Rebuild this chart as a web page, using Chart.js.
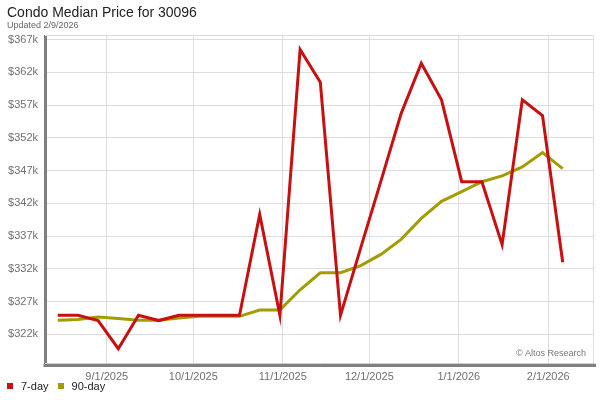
<!DOCTYPE html>
<html>
<head>
<meta charset="utf-8">
<script src="https://cdn.jsdelivr.net/npm/chart.js@4/dist/chart.umd.min.js"></script>
<style>
  html, body { margin: 0; padding: 0; background: #fff; }
  #wrap { position: relative; width: 600px; height: 400px; overflow: hidden; font-family: "Liberation Sans", Arial, sans-serif; }
  #c { position: absolute; left: 0; top: 0; }
  .title { position: absolute; left: 7px; top: 4px; font-size: 14px; color: #222; white-space: nowrap; }
  .sub { position: absolute; left: 7px; top: 20px; font-size: 9px; color: #666; white-space: nowrap; }
  .credit { position: absolute; right: 14px; top: 348px; font-size: 9px; color: #777; white-space: nowrap; }
  .legend { position: absolute; left: 7px; top: 380px; font-size: 11px; color: #222; white-space: nowrap; }
  .legend span.sw { display: inline-block; width: 6px; height: 6px; vertical-align: middle; margin-right: 8px; position: relative; top: -1px; }
  .legend span.it { margin-right: 9px; }
</style>
</head>
<body>
<div id="wrap">
  <canvas id="c" width="600" height="400"></canvas>
  <div class="title">Condo Median Price for 30096</div>
  <div class="sub">Updated 2/9/2026</div>
  <div class="credit">© Altos Research</div>
  <div class="legend"><span class="sw" style="background:#c81010"></span><span class="it">7-day</span><span class="sw" style="background:#a19c00"></span><span>90-day</span></div>
</div>
<script>
// Week-ending dates (weekly)
const dates = ['2025-08-15','2025-08-22','2025-08-29','2025-09-05','2025-09-12','2025-09-19','2025-09-26',
  '2025-10-03','2025-10-10','2025-10-17','2025-10-24','2025-10-31','2025-11-07','2025-11-14','2025-11-21',
  '2025-11-28','2025-12-05','2025-12-12','2025-12-19','2025-12-26','2026-01-02','2026-01-09','2026-01-16',
  '2026-01-23','2026-01-30','2026-02-06'];

// 7-day median price
const sevenDay = [324900, 324900, 324100, 319800, 324900, 324100, 324900,
  324900, 324900, 324900, 340300, 324900, 365500, 360500, 324900,
  335200, 345400, 355700, 363400, 357800, 345300, 345300, 335700,
  357800, 355400, 333000];

// 90-day median price
const ninetyDay = [324150, 324250, 324650, 324400, 324150, 324150, 324500,
  324750, 324750, 324750, 325700, 325700, 328800, 331400, 331400,
  332500, 334200, 336500, 339700, 342300, 343800, 345300, 346200,
  347550, 349750, 347300];

// Axis ticks
const yTicks = [322000, 327000, 332000, 337000, 342000, 347000, 352000, 357000, 362000, 367000];
const xTickDates = ['2025-09-01','2025-10-01','2025-11-01','2025-12-01','2026-01-01','2026-02-01'];
const xTickLabels = ['9/1/2025','10/1/2025','11/1/2025','12/1/2025','1/1/2026','2/1/2026'];

const dayNum = s => Date.parse(s + 'T00:00:00Z') / 86400000;
const xMin = dayNum('2025-09-01') - 21.4;
const xMax = dayNum('2026-02-01') + 15.5;

const pts = arr => arr.map((v, i) => ({ x: dayNum(dates[i]), y: v }));

Chart.defaults.font.family = '"Liberation Sans", Arial, sans-serif';

const frame = {
  id: 'frame',
  beforeDatasetsDraw(chart) {
    const a = chart.chartArea, ctx = chart.ctx;
    ctx.save();
    ctx.strokeStyle = '#dddddd';
    ctx.lineWidth = 1;
    ctx.beginPath();
    ctx.moveTo(a.left, Math.round(a.top) - 0.5);
    ctx.lineTo(Math.round(a.right) + 0.5, Math.round(a.top) - 0.5);
    ctx.lineTo(Math.round(a.right) + 0.5, a.bottom);
    ctx.stroke();
    ctx.restore();
  },
  afterDatasetsDraw(chart) {
    const a = chart.chartArea, ctx = chart.ctx;
    ctx.save();
    ctx.strokeStyle = '#cfcfcf';
    ctx.lineWidth = 1;
    ctx.beginPath();
    ctx.moveTo(a.left, a.bottom - 0.5);
    ctx.lineTo(a.right + 3, a.bottom - 0.5);
    ctx.stroke();
    ctx.strokeStyle = '#808080';
    ctx.lineWidth = 3;
    ctx.beginPath();
    ctx.moveTo(a.left - 1.5, a.bottom + 1.5);
    ctx.lineTo(a.right + 3, a.bottom + 1.5);
    ctx.stroke();
    ctx.restore();
  }
};

new Chart(document.getElementById('c'), {
  type: 'line',
  data: {
    datasets: [
      { label: '7-day', data: pts(sevenDay), borderColor: '#c81010', backgroundColor: '#c81010',
        borderWidth: 3, pointRadius: 0, tension: 0, fill: false },
      { label: '90-day', data: pts(ninetyDay), borderColor: '#a19c00', backgroundColor: '#a19c00',
        borderWidth: 3, pointRadius: 0, tension: 0, fill: false }
    ]
  },
  options: {
    responsive: false,
    animation: false,
    events: [],
    layout: { padding: { left: 0, top: 36, right: 7, bottom: 0 } },
    plugins: { legend: { display: false }, tooltip: { enabled: false } },
    scales: {
      x: {
        type: 'linear', min: xMin, max: xMax,
        afterFit: s => { s.height = 36; },
        afterBuildTicks: s => { s.ticks = xTickDates.map(d => ({ value: dayNum(d) })); },
        ticks: {
          autoSkip: false, maxRotation: 0, padding: 6, color: '#707070', font: { size: 11 },
          callback: (v) => { const i = xTickDates.findIndex(d => dayNum(d) === v); return i >= 0 ? xTickLabels[i] : ''; }
        },
        grid: { color: '#dddddd', lineWidth: 1, drawTicks: false },
        border: { display: false }
      },
      y: {
        min: 317470, max: 367550,
        afterFit: s => { s.width = 45; },
        afterBuildTicks: s => { s.ticks = yTicks.map(v => ({ value: v })); },
        ticks: {
          padding: 7, color: '#707070', font: { size: 11 },
          callback: v => '$' + Math.round(v / 1000) + 'k'
        },
        grid: { color: '#dddddd', lineWidth: 1, drawTicks: false },
        border: { display: true, color: '#808080', width: 3 }
      }
    }
  },
  plugins: [frame]
});
</script>
</body>
</html>
